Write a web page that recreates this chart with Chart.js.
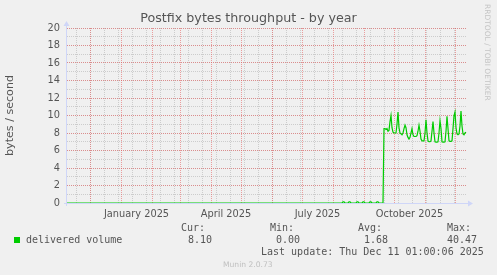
<!DOCTYPE html>
<html>
<head>
<meta charset="utf-8">
<title>Postfix bytes throughput - by year</title>
<script src="https://cdn.jsdelivr.net/npm/chart.js@4.4.1/dist/chart.umd.min.js"></script>
<style>
  body { margin: 0; background: #f0f0f0; }
  #wrap { position: relative; width: 497px; height: 275px; background: #f0f0f0; overflow: hidden; }
  #chart { position: absolute; left: 0; top: 0; }
  .txt { position: absolute; font: 10px "DejaVu Sans Mono", monospace; line-height: 12px; color: #555; white-space: pre; }
  .swatch { position: absolute; left: 14px; top: 237px; width: 6px; height: 6px; background: #00cc00; }
  #rrd { position: absolute; left: 483px; top: 4px; font: 7.5px "DejaVu Sans", sans-serif; color: #c4c4c4;
         writing-mode: vertical-rl; white-space: nowrap; line-height: 9px; }
  #munin { position: absolute; left: 223px; top: 260px; font: 7.6px "DejaVu Sans", sans-serif; line-height: 9px; color: #c0c0c0; }
</style>
</head>
<body>
<div id="wrap">
  <canvas id="chart" width="497" height="275"></canvas>
  <div class="swatch"></div>
  <div id="legend"></div>
  <div id="rrd">RRDTOOL / TOBI OETIKER</div>
  <div id="munin">Munin 2.0.73</div>
</div>
<script>
// Дані: дні від 1 січня 2025 (вісь X), значення байт/с
const days = [
  -54, 221, 222, 223, 224, 227, 228, 229, 230, 235, 236, 237, 238,
  241, 242, 243, 244, 248, 249, 250, 251, 255, 256, 257, 258, 262,
  263, 264, 265, 266, 267, 268, 269, 270, 271, 272,
  273, 274, 275, 276, 277, 278, 279, 280, 281, 282,
  283, 284, 285, 286, 287, 288, 289, 290, 291, 292,
  293, 294, 295, 296, 297, 298, 299, 300, 301, 302,
  303, 304, 305, 306, 307, 308, 309, 310, 311, 312,
  313, 314, 315, 316, 317, 318, 319, 320, 321, 322,
  323, 324, 325, 326, 327, 328, 329, 330, 331, 332,
  333, 334, 335, 336, 337, 338, 339, 340, 341, 342,
  343, 344, 345
];
const volume = [
  0, 0, 0.12, 0.12, 0, 0, 0.12, 0.12, 0, 0, 0.12, 0.12, 0,
  0, 0.12, 0.12, 0, 0, 0.12, 0.12, 0, 0, 0.12, 0.12, 0, 0,
  8.5, 8.5, 8.4, 8.5, 8.2, 8.3, 9.3, 10.0, 8.6, 8.1,
  8.0, 8.0, 8.0, 9.0, 10.4, 8.6, 8.0, 7.9, 7.8, 8.0,
  8.5, 8.9, 8.6, 7.8, 7.5, 7.3, 7.5, 8.0, 8.5, 7.8,
  7.6, 7.6, 7.6, 7.7, 8.2, 8.9, 8.2, 7.3, 7.1, 7.1,
  7.1, 8.0, 9.5, 8.0, 7.1, 7.0, 7.0, 7.1, 8.2, 9.3,
  8.0, 7.0, 6.95, 6.95, 7.0, 8.0, 9.4, 8.5, 7.0, 6.95,
  6.95, 7.0, 8.2, 9.9, 8.5, 7.1, 7.05, 7.05, 7.1, 8.5,
  10.0, 10.4, 8.6, 7.9, 7.8, 7.9, 8.8, 10.5, 8.8, 7.9,
  7.8, 8.0, 8.1
];

// Сітка та підписи осі X
const monthStarts = [-31, 0, 31, 59, 90, 120, 151, 181, 212, 243, 273, 304, 334];
const minorTicks = [-45, -31, -17, -3, 11, 25, 39, 53, 67, 81, 95, 109, 123, 137,
  151, 165, 179, 193, 207, 221, 235, 249, 263, 277, 291, 305, 319, 333];
const labelDays = [15.5, 105, 196.5, 288.5];
const monthLabels = ['January 2025', 'April 2025', 'July 2025', 'October 2025'];

// Легенда
const seriesName = 'delivered volume';
const statNames = ['Cur:', 'Min:', 'Avg:', 'Max:'];
const statValues = ['8.10', '0.00', '1.68', '40.47'];
const lastUpdate = 'Last update: Thu Dec 11 01:00:06 2025';

const AXIS_FONT = { family: 'DejaVu Sans', size: 9.8 };
const MAJOR = 'rgba(230, 90, 90, 0.55)';
const MINOR = 'rgba(150, 150, 150, 0.4)';

function buildLegend() {
  const legend = document.getElementById('legend');
  const headX = [181, 270, 358, 447];
  const valX = [188, 276, 364, 447];
  let html = '<div class="txt" style="left:26px;top:233.5px">' + seriesName + '</div>';
  statNames.forEach((n, i) => {
    html += '<div class="txt" style="left:' + headX[i] + 'px;top:222px">' + n + '</div>';
    html += '<div class="txt" style="left:' + valX[i] + 'px;top:233.5px">' + statValues[i] + '</div>';
  });
  html += '<div class="txt" style="left:261px;top:246px">' + lastUpdate + '</div>';
  legend.innerHTML = html;
}

// Осі зі стрілками як у rrdtool
const axisArrows = {
  id: 'axisArrows',
  beforeDatasetsDraw(chart) {
    const { ctx, chartArea: a } = chart;
    ctx.save();
    ctx.strokeStyle = '#cfd6f8';
    ctx.fillStyle = '#cfd6f8';
    ctx.lineWidth = 1;
    ctx.beginPath();
    ctx.moveTo(a.left - 0.5, a.bottom + 3);
    ctx.lineTo(a.left - 0.5, a.top - 2);
    ctx.moveTo(a.left - 3, a.bottom + 0.5);
    ctx.lineTo(a.right + 1, a.bottom + 0.5);
    ctx.stroke();
    ctx.beginPath();
    ctx.moveTo(a.left - 3.5, a.top - 2);
    ctx.lineTo(a.left + 2.5, a.top - 2);
    ctx.lineTo(a.left - 0.5, a.top - 7);
    ctx.closePath();
    ctx.moveTo(a.right + 1, a.bottom - 2.5);
    ctx.lineTo(a.right + 1, a.bottom + 3.5);
    ctx.lineTo(a.right + 6, a.bottom + 0.5);
    ctx.closePath();
    ctx.fill();
    ctx.restore();
  }
};

function setTicks(values) {
  return scale => { scale.ticks = values.map(v => ({ value: v })); };
}

function initChart() {
  return new Chart(document.getElementById('chart'), {
    type: 'line',
    data: {
      datasets: [{
        label: seriesName,
        data: days.map((d, i) => ({ x: d, y: volume[i] })),
        borderColor: '#00cc00',
        borderWidth: 1.2,
        pointRadius: 0,
        tension: 0,
        xAxisID: 'x',
        yAxisID: 'y'
      }]
    },
    options: {
      responsive: false,
      animation: false,
      devicePixelRatio: 1,
      events: [],
      layout: { padding: { left: 0, right: 0, top: 0, bottom: 52 } },
      plugins: {
        legend: { display: false },
        tooltip: { enabled: false },
        title: {
          display: true,
          text: 'Postfix bytes throughput - by year',
          color: '#555',
          font: { family: 'DejaVu Sans', size: 12.7, weight: 'normal', lineHeight: 1.2 },
          padding: { top: 11, bottom: 1.76 }
        }
      },
      scales: {
        xm: {
          type: 'linear', position: 'bottom', min: -54, max: 346, bounds: 'data',
          afterBuildTicks: setTicks(minorTicks),
          afterFit: s => { s.height = 0; },
          grid: { color: MINOR, drawTicks: false, z: -3 },
          border: { display: false, dash: [1, 1] },
          ticks: { display: false }
        },
        x: {
          type: 'linear', position: 'bottom', min: -54, max: 346, bounds: 'data',
          afterBuildTicks: setTicks(monthStarts),
          afterFit: s => { s.height = 0; },
          grid: { color: MAJOR, drawTicks: false, z: -1 },
          border: { display: false, dash: [1, 1] },
          ticks: { display: false }
        },
        xl: {
          type: 'linear', position: 'bottom', min: -54, max: 346, bounds: 'data',
          afterBuildTicks: setTicks(labelDays),
          afterFit: s => { s.height = 20; },
          grid: { display: false, drawTicks: false },
          border: { display: false },
          ticks: {
            autoSkip: false, maxRotation: 0, padding: 6, color: '#555', font: AXIS_FONT,
            callback: (v, i) => monthLabels[i]
          }
        },
        ym: {
          type: 'linear', position: 'left', min: 0, max: 20,
          afterFit: s => { s.width = 0; },
          grid: { color: MINOR, drawTicks: false, z: -3 },
          border: { display: false, dash: [1, 1] },
          ticks: { display: false, stepSize: 1 }
        },
        y: {
          type: 'linear', position: 'left', min: 0, max: 20,
          afterFit: s => { s.width = 67; },
          grid: { color: MAJOR, drawTicks: false, z: -1 },
          border: { display: false, dash: [1, 1] },
          ticks: { stepSize: 2, padding: 7, color: '#555', font: AXIS_FONT },
          title: {
            display: true, text: 'bytes / second', color: '#555',
            font: { family: 'DejaVu Sans', size: 11.1, lineHeight: 1.2 },
            padding: { top: 3, bottom: 0 }
          }
        },
        yr: {
          type: 'linear', position: 'right', min: 0, max: 20,
          afterFit: s => { s.width = 30; },
          grid: { display: false, drawTicks: false },
          border: { display: false },
          ticks: { display: false }
        }
      }
    },
    plugins: [axisArrows]
  });
}

buildLegend();
initChart();
</script>
</body>
</html>
